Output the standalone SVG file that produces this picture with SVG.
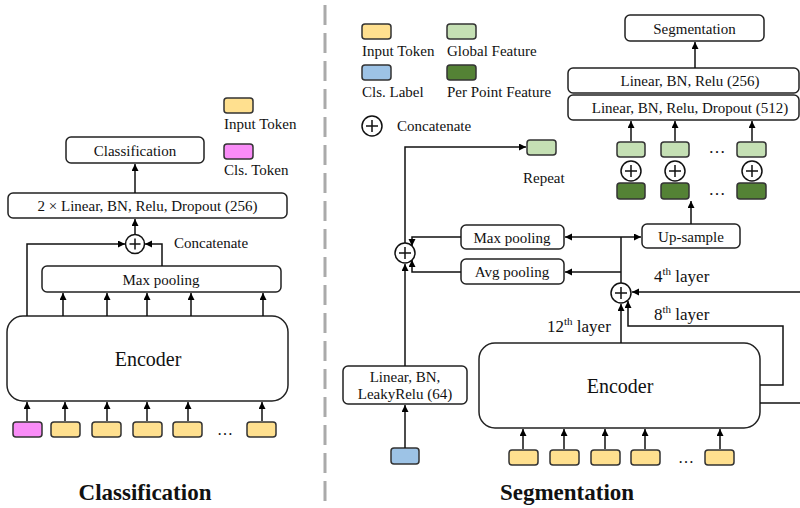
<svg xmlns="http://www.w3.org/2000/svg" width="800" height="508" viewBox="0 0 800 508">
  <defs>
    <marker id="arrow" markerUnits="userSpaceOnUse" markerWidth="8" markerHeight="8" refX="7" refY="3.5" orient="auto">
      <path d="M0,0 L7,3.5 L0,7 z" fill="#000"/>
    </marker>
    <style>
      text { font-family: "Liberation Serif", "Times New Roman", serif; fill: #111; }
      .box { fill: #fff; stroke: #222; stroke-width: 1.5; }
      .enc { fill: #fff; stroke: #222; stroke-width: 1.5; }
      .tok { stroke: #333; stroke-width: 1.5; }
      .in { fill: #FFE08F; }
      .cls { fill: #F98CF7; }
      .lab { fill: #9DC3E6; }
      .glob { fill: #C5E0B4; }
      .pp { fill: #548235; }
      .t15 { font-size: 15px; }
      .mid { text-anchor: middle; }
      .enc-t { font-size: 20px; text-anchor: middle; }
      .layer { font-size: 17px; }
      .title { font-size: 23px; font-weight: bold; text-anchor: middle; }
      .conn { fill: none; stroke: #111; stroke-width: 1.5; }
      .arr { marker-end: url(#arrow); }
      .cat { fill: #fff; stroke: #111; stroke-width: 1.5; }
    </style>
  </defs>

  <!-- divider between the two heads -->
  <line x1="325" y1="5" x2="325" y2="505" stroke="#aaa" stroke-width="3" stroke-dasharray="20 8"/>

  <!-- ================= Classification head ================= -->
  <g id="cls-legend">
    <rect class="tok in" x="224" y="98" width="29" height="15" rx="3"/>
    <text class="t15" x="224" y="129">Input Token</text>
    <rect class="tok cls" x="224" y="144" width="29" height="15" rx="3"/>
    <text class="t15" x="224" y="175">Cls. Token</text>
  </g>

  <g id="cls-output">
    <rect class="box" x="66" y="137" width="138" height="26" rx="5"/>
    <text class="t15 mid" x="135" y="156">Classification</text>
  </g>

  <g id="cls-mlp">
    <rect class="box" x="8" y="193" width="279" height="25" rx="5"/>
    <text class="t15 mid" x="147.5" y="211">2 × Linear, BN, Relu, Dropout (256)</text>
  </g>

  <g id="cls-concat">
    <circle class="cat" cx="135" cy="244" r="9.5"/>
    <path class="conn" d="M129.5,244 H140.5 M135,238.5 V249.5"/>
    <text x="174" y="248" style="font-size:15px">Concatenate</text>
  </g>

  <g id="cls-maxpool">
    <rect class="box" x="42" y="266" width="239" height="26" rx="5"/>
    <text class="t15 mid" x="161" y="285">Max pooling</text>
  </g>

  <g id="cls-encoder">
    <rect class="enc" x="7" y="316" width="281" height="85" rx="16"/>
    <text class="enc-t" x="148" y="366">Encoder</text>
  </g>

  <g id="cls-tokens">
    <rect class="tok cls" x="13" y="422" width="29" height="15" rx="3"/>
    <rect class="tok in" x="51" y="422" width="29" height="15" rx="3"/>
    <rect class="tok in" x="92" y="422" width="29" height="15" rx="3"/>
    <rect class="tok in" x="133" y="422" width="29" height="15" rx="3"/>
    <rect class="tok in" x="173" y="422" width="29" height="15" rx="3"/>
    <text x="225" y="435" class="mid" style="font-size:16px">…</text>
    <rect class="tok in" x="247" y="422" width="29" height="15" rx="3"/>
  </g>

  <text class="title" x="145" y="500">Classification</text>

  <g id="cls-connectors">
    <line class="conn arr" x1="135" y1="193" x2="135" y2="164"/>
    <line class="conn arr" x1="135" y1="234" x2="135" y2="219"/>
    <polyline class="conn arr" points="27,316 27,244 125,244"/>
    <polyline class="conn arr" points="162,266 162,244 145,244"/>
    <line class="conn arr" x1="63" y1="316" x2="63" y2="293"/>
    <line class="conn arr" x1="107" y1="316" x2="107" y2="293"/>
    <line class="conn arr" x1="147" y1="316" x2="147" y2="293"/>
    <line class="conn arr" x1="191" y1="316" x2="191" y2="293"/>
    <line class="conn arr" x1="263" y1="316" x2="263" y2="293"/>
    <line class="conn arr" x1="27" y1="421" x2="27" y2="402"/>
    <line class="conn arr" x1="65" y1="421" x2="65" y2="402"/>
    <line class="conn arr" x1="107" y1="421" x2="107" y2="402"/>
    <line class="conn arr" x1="147" y1="421" x2="147" y2="402"/>
    <line class="conn arr" x1="188" y1="421" x2="188" y2="402"/>
    <line class="conn arr" x1="262" y1="421" x2="262" y2="402"/>
  </g>

  <!-- ================= Segmentation head ================= -->
  <g id="seg-legend">
    <rect class="tok in" x="362" y="24" width="29" height="15" rx="3"/>
    <text class="t15" x="362" y="56">Input Token</text>
    <rect class="tok glob" x="447" y="24" width="29" height="15" rx="3"/>
    <text class="t15" x="447" y="56">Global Feature</text>
    <rect class="tok lab" x="362" y="65" width="29" height="15" rx="3"/>
    <text class="t15" x="362" y="97">Cls. Label</text>
    <rect class="tok pp" x="447" y="65" width="29" height="15" rx="3"/>
    <text class="t15" x="447" y="97">Per Point Feature</text>
    <circle class="cat" cx="372" cy="126" r="10"/>
    <path class="conn" d="M366,126 H378 M372,120 V132"/>
    <text class="t15" x="397" y="131">Concatenate</text>
  </g>

  <g id="seg-output">
    <rect class="box" x="625" y="15" width="139" height="26" rx="5"/>
    <text class="t15 mid" x="694.5" y="34">Segmentation</text>
  </g>

  <g id="seg-mlp">
    <rect class="box" x="568" y="68" width="231" height="25" rx="5"/>
    <text class="t15 mid" x="690" y="86">Linear, BN, Relu (256)</text>
    <rect class="box" x="568" y="95" width="231" height="25" rx="5"/>
    <text class="t15 mid" x="690" y="113">Linear, BN, Relu, Dropout (512)</text>
  </g>

  <g id="seg-features">
    <rect class="tok glob" x="617" y="142" width="28" height="15" rx="3"/>
    <rect class="tok glob" x="661" y="142" width="28" height="15" rx="3"/>
    <rect class="tok glob" x="737" y="142" width="29" height="15" rx="3"/>
    <text x="717" y="153" class="mid" style="font-size:17px">…</text>
    <circle class="cat" cx="631" cy="171" r="10"/>
    <path class="conn" d="M625,171 H637 M631,165 V177"/>
    <circle class="cat" cx="675" cy="171" r="10"/>
    <path class="conn" d="M669,171 H681 M675,165 V177"/>
    <circle class="cat" cx="752" cy="171" r="10"/>
    <path class="conn" d="M746,171 H758 M752,165 V177"/>
    <rect class="tok pp" x="617" y="183" width="28" height="16" rx="3"/>
    <rect class="tok pp" x="661" y="183" width="28" height="16" rx="3"/>
    <rect class="tok pp" x="737" y="183" width="29" height="16" rx="3"/>
    <text x="717" y="195" class="mid" style="font-size:17px">…</text>
  </g>

  <g id="seg-repeat">
    <rect class="tok glob" x="527" y="140" width="29" height="15" rx="3"/>
    <text class="t15" x="523" y="183">Repeat</text>
  </g>

  <g id="seg-upsample">
    <rect class="box" x="642" y="224" width="98" height="24" rx="5"/>
    <text class="t15 mid" x="691" y="242">Up-sample</text>
  </g>

  <g id="seg-maxpool">
    <rect class="box" x="461" y="225" width="103" height="24" rx="5"/>
    <text class="t15 mid" x="512" y="243">Max pooling</text>
  </g>

  <g id="seg-avgpool">
    <rect class="box" x="461" y="259" width="103" height="25" rx="5"/>
    <text class="t15 mid" x="512" y="277">Avg pooling</text>
  </g>

  <g id="seg-concat-global">
    <circle class="cat" cx="405" cy="253" r="10"/>
    <path class="conn" d="M399,253 H411 M405,247 V259"/>
  </g>

  <g id="seg-concat-layers">
    <circle class="cat" cx="621" cy="293" r="10"/>
    <path class="conn" d="M615,293 H627 M621,287 V299"/>
  </g>

  <g id="seg-label-mlp">
    <rect class="box" x="343" y="366" width="124" height="38" rx="5"/>
    <text class="t15 mid" x="405" y="382">Linear, BN,</text>
    <text class="t15 mid" x="405" y="399">LeakyRelu (64)</text>
  </g>

  <g id="seg-cls-label">
    <rect class="tok lab" x="391" y="448" width="28" height="16" rx="3"/>
  </g>

  <g id="seg-encoder">
    <rect class="enc" x="479" y="343" width="281" height="85" rx="16"/>
    <text class="enc-t" x="620" y="393">Encoder</text>
  </g>

  <g id="seg-tokens">
    <rect class="tok in" x="509" y="450" width="29" height="15" rx="3"/>
    <rect class="tok in" x="550" y="450" width="29" height="15" rx="3"/>
    <rect class="tok in" x="591" y="450" width="29" height="15" rx="3"/>
    <rect class="tok in" x="631" y="450" width="29" height="15" rx="3"/>
    <text x="686" y="463" class="mid" style="font-size:16px">…</text>
    <rect class="tok in" x="705" y="450" width="29" height="15" rx="3"/>
  </g>

  <g id="seg-layer-labels">
    <text class="layer" x="654" y="282">4<tspan font-size="11" dy="-7">th</tspan><tspan dy="7"> layer</tspan></text>
    <text class="layer" x="654" y="320">8<tspan font-size="11" dy="-7">th</tspan><tspan dy="7"> layer</tspan></text>
    <text class="layer" x="547" y="332">12<tspan font-size="11" dy="-7">th</tspan><tspan dy="7"> layer</tspan></text>
  </g>

  <text class="title" x="567" y="500">Segmentation</text>

  <g id="seg-connectors">
    <line class="conn arr" x1="695" y1="68" x2="695" y2="42"/>
    <line class="conn arr" x1="631" y1="141" x2="631" y2="121"/>
    <line class="conn arr" x1="675" y1="141" x2="675" y2="121"/>
    <line class="conn arr" x1="752" y1="141" x2="752" y2="121"/>
    <line class="conn arr" x1="691" y1="224" x2="691" y2="201"/>
    <!-- global branch -->
    <polyline class="conn arr" points="405,243 405,147 526,147"/>
    <polyline class="conn arr" points="461,237 412,237 412,246"/>
    <polyline class="conn arr" points="461,272 412,272 412,260"/>
    <line class="conn arr" x1="405" y1="366" x2="405" y2="264"/>
    <line class="conn arr" x1="405" y1="448" x2="405" y2="405"/>
    <!-- fused layers to pooling and up-sample -->
    <line class="conn" x1="621" y1="283" x2="621" y2="237"/>
    <line class="conn arr" x1="621" y1="237" x2="565" y2="237"/>
    <line class="conn arr" x1="621" y1="237" x2="641" y2="237"/>
    <line class="conn arr" x1="621" y1="272" x2="565" y2="272"/>
    <!-- encoder layer taps -->
    <line class="conn arr" x1="621" y1="343" x2="621" y2="304"/>
    <polyline class="conn arr" points="760,385 783,385 783,326 628,326 628,301"/>
    <line class="conn arr" x1="805" y1="292" x2="632" y2="292"/>
    <line class="conn" x1="760" y1="403" x2="805" y2="403"/>
    <!-- tokens into encoder -->
    <line class="conn arr" x1="523" y1="449" x2="523" y2="429"/>
    <line class="conn arr" x1="564" y1="449" x2="564" y2="429"/>
    <line class="conn arr" x1="605" y1="449" x2="605" y2="429"/>
    <line class="conn arr" x1="645" y1="449" x2="645" y2="429"/>
    <line class="conn arr" x1="720" y1="449" x2="720" y2="429"/>
  </g>
</svg>
